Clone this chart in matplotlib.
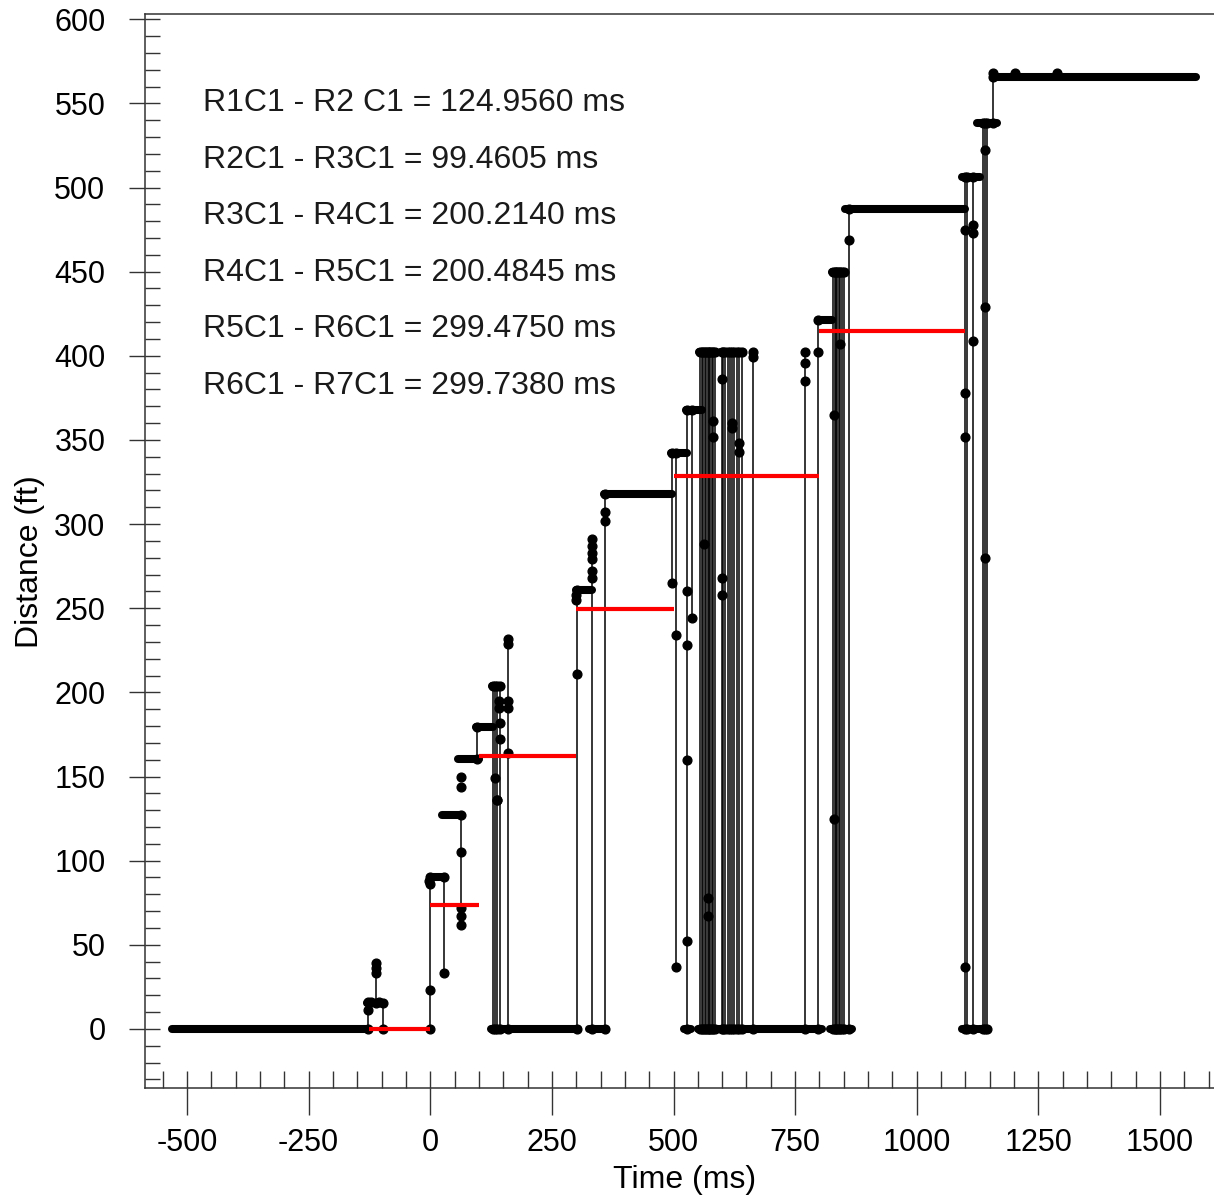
import matplotlib
matplotlib.use("Agg")
import matplotlib.pyplot as plt
from matplotlib.ticker import MultipleLocator
import numpy as np

plt.rcParams['font.family'] = ['Liberation Sans', 'DejaVu Sans']
plt.rcParams['axes.unicode_minus'] = False

# intervals between consecutive R?C1 marks (ms)
pair_labels = ["R1C1 - R2 C1", "R2C1 - R3C1", "R3C1 - R4C1",
               "R4C1 - R5C1", "R5C1 - R6C1", "R6C1 - R7C1"]
pair_dt = [124.9560, 99.4605, 200.2140, 200.4845, 299.4750, 299.7380]
r1c1_time = -124.956
pair_level = [0, 73.5, 162, 249.5, 328.5, 415]

# held distance readings: start (ms), end (ms), distance (ft)
hold_t0 = [-530, -130, 0, 25, 56, 95, 126, 124, 299, 326, 357, 494, 522, 525,
           553, 550, 598, 796, 826, 822, 853, 1093, 1094, 1127, 1124, 1157]
hold_t1 = [-128, -97, 29, 64, 101, 128, 145, 303, 333, 362, 497, 528, 535, 559,
           587, 805, 642, 826, 853, 867, 1100, 1123, 1130, 1142, 1165, 1575]
hold_d = [0, 15.5, 90.5, 127, 160.5, 179.5, 204, 0, 261, 0, 318, 342, 0, 368,
          402, 0, 402, 421, 450, 0, 487.5, 0, 506.5, 0, 538.5, 565.5]

# jumps between readings: time (ms), low (ft), high (ft)
jump_t = [-128, -112, -97, 0, 28, 64, 97, 128, 133, 137, 143, 160,
          302, 333, 360, 497, 505, 528, 538,
          555, 558, 561, 564, 567, 570, 573, 576, 579, 582, 586,
          599, 602, 605, 611, 617, 621, 625, 630, 635, 640,
          664, 770, 798,
          828, 831, 834, 837, 840, 843, 847, 851,
          861, 1099, 1104, 1116, 1136, 1140, 1144, 1157]
jump_lo = [0, 15.5, 0, 0, 33, 62, 160.5, 0, 0, 0, 0, 0,
           0, 0, 0, 265, 37, 0, 244,
           0, 0, 0, 0, 0, 0, 0, 0, 0, 0, 0,
           0, 0, 0, 0, 0, 0, 0, 0, 0, 0,
           0, 0, 0,
           0, 0, 0, 0, 0, 0, 0, 0,
           0, 0, 0, 0, 0, 0, 0, 538.5]
jump_hi = [16, 39, 15.5, 90.5, 90.5, 127, 179.5, 204, 204, 204, 204, 232,
           261, 291, 318, 342, 342, 368, 368,
           402, 402, 402, 402, 402, 402, 402, 402, 402, 402, 402,
           402, 402, 402, 402, 402, 402, 402, 402, 402, 402,
           402, 402, 421,
           450, 450, 450, 450, 450, 450, 450, 450,
           487.5, 506.5, 506.5, 506.5, 538.5, 538.5, 538.5, 565.5]

# isolated readings along the jumps
dot_t = [-128, -112, -112, -121, -105, 0, -2, -1, 64, 64, 64, 64, 64, 137,
         141, 141, 143, 143, 133, 137, 160, 160, 160, 160,
         302, 300, 300, 333, 333, 333, 333, 333, 360, 360,
         505, 528, 528, 528, 528,
         562, 581, 581, 570, 570, 600, 600, 600, 620, 620, 634, 634,
         664, 770, 770, 798, 830, 830, 843, 861,
         1099, 1099, 1099, 1099, 1116, 1116, 1116, 1140, 1140, 1140,
         1156, 1201, 1288]
dot_d = [11, 36, 33, 16, 16, 23, 88, 86, 67, 72, 105, 144, 150, 136,
         195, 191, 182, 172, 149, 136, 229, 195, 191, 164,
         211, 258, 255, 287, 283, 279, 272, 268, 307, 302,
         234, 260, 228, 160, 52,
         288, 361, 352, 78, 67, 386, 268, 258, 360, 357, 348, 343,
         399, 396, 385, 402, 365, 125, 407, 469,
         475, 378, 352, 37, 478, 473, 409, 522, 429, 280,
         568, 568, 568]

fig = plt.figure(figsize=(12.14, 11.98), dpi=100)
ax = fig.add_axes([145 / 1214, 1 - 1087.5 / 1198, 1 - 145 / 1214, 1073.5 / 1198])

ax.vlines(jump_t, jump_lo, jump_hi, colors='black', lw=1.1, zorder=2)
ax.hlines(hold_d, hold_t0, hold_t1, colors='black', lw=5.8, capstyle='round', zorder=3)
ax.plot(jump_t, jump_hi, 'o', color='black', ms=6.3, zorder=3)
ax.plot(jump_t, jump_lo, 'o', color='black', ms=6.3, zorder=3)
ax.plot(dot_t, dot_d, 'o', color='black', ms=6.3, zorder=3)

# red bars spanning each interval
starts = r1c1_time + np.concatenate([[0], np.cumsum(pair_dt)[:-1]])
ends = starts + np.array(pair_dt)
ax.hlines(pair_level, starts, ends, colors='#ff0000', lw=3, zorder=4)

for i, (lab, dt) in enumerate(zip(pair_labels, pair_dt)):
    ax.text(-467, 550.2 - i * 33.6, f"{lab} = {dt:.4f} ms", fontsize=23,
            va='center', ha='left', color='#1a1a1a')

ax.set_xlim(-586.4, 1611)
ax.set_ylim(-34.8, 603.1)

ax.xaxis.set_major_locator(MultipleLocator(250))
ax.xaxis.set_minor_locator(MultipleLocator(50))
ax.yaxis.set_major_locator(MultipleLocator(50))
ax.yaxis.set_minor_locator(MultipleLocator(10))
ax.xaxis.remove_overlapping_locs = False
ax.yaxis.remove_overlapping_locs = False

ax.tick_params(axis='x', which='major', direction='out', length=19.5, width=1,
               color='#333333', labelsize=22, pad=9.5)
ax.tick_params(axis='x', which='minor', direction='in', length=12.2, width=1,
               color='#333333')
ax.tick_params(axis='y', which='major', direction='out', length=11.5, width=1,
               color='#333333', labelsize=22, pad=17)
ax.tick_params(axis='y', which='minor', direction='in', length=10.8, width=1,
               color='#333333')

ax.spines['right'].set_visible(False)
for s in ['left', 'bottom', 'top']:
    ax.spines[s].set_color('#333333')
    ax.spines[s].set_linewidth(1.1)

ax.set_xlabel("Time (ms)", fontsize=23)
ax.set_ylabel("Distance (ft)", fontsize=23)
ax.xaxis.set_label_coords(0.505, -0.072)
ax.yaxis.set_label_coords(-0.0935, 0.4895)

fig.savefig("out.png", dpi=100)
